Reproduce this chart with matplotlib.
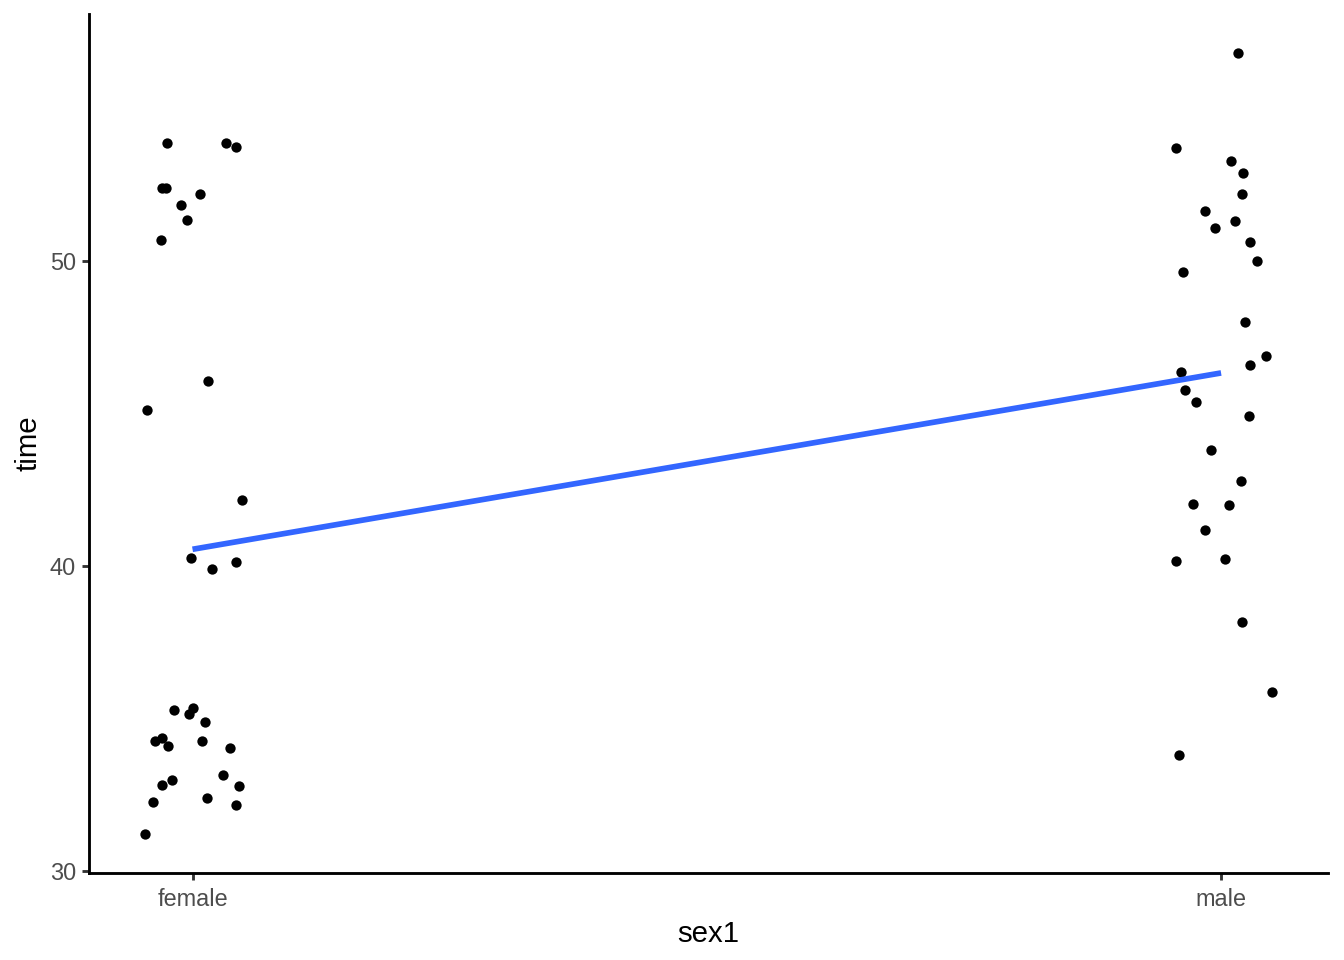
import numpy as np
import matplotlib
matplotlib.use("Agg")
import matplotlib.pyplot as plt

categories = ["female", "male"]

female_time = [53.88, 53.86, 53.75, 52.39, 52.39, 52.20, 51.84, 51.35, 50.70, 45.11,
               46.06, 42.16, 40.26, 39.90, 40.12, 35.27, 35.14, 35.33, 34.88, 34.26,
               34.34, 34.09, 34.26, 34.02, 33.14, 32.98, 32.81, 32.78, 32.39, 32.25,
               32.15, 31.20]
female_jitter = [-0.0246, 0.0327, 0.0424, -0.0298, -0.0259, 0.0075, -0.0110, -0.0049, -0.0311, -0.0447,
                 0.0155, 0.0485, -0.0019, 0.0194, 0.0427, -0.0178, -0.0036, 0.0000, 0.0126, -0.0366,
                 -0.0301, -0.0243, 0.0094, 0.0366, 0.0301, -0.0197, -0.0301, 0.0456, 0.0136, -0.0382,
                 0.0424, -0.0459]

male_time = [56.82, 53.71, 53.29, 52.88, 52.20, 51.64, 51.31, 51.08, 50.63, 50.01,
             49.64, 48.00, 46.88, 46.37, 46.59, 45.78, 45.38, 44.91, 43.80, 42.78,
             42.03, 41.99, 41.17, 40.16, 40.22, 38.16, 35.86, 33.79]
male_jitter = [0.0162, -0.0440, 0.0094, 0.0214, 0.0201, -0.0158, 0.0136, -0.0058, 0.0279, 0.0347,
               -0.0372, 0.0230, 0.0434, -0.0391, 0.0279, -0.0352, -0.0246, 0.0269, -0.0100, 0.0191,
               -0.0275, 0.0075, -0.0158, -0.0440, 0.0036, 0.0201, 0.0492, -0.0411]

y_ticks = [30, 40, 50]

plt.rcParams['font.family'] = ['Liberation Sans', 'DejaVu Sans']

fig = plt.figure(figsize=(7, 5), dpi=192)
ax = fig.add_axes([89/1344, 1 - 873/960, (1328-89)/1344, (873-14)/960])

codes_f = np.ones(len(female_time))
codes_m = np.full(len(male_time), 2.0)
xf = codes_f + np.array(female_jitter)
xm = codes_m + np.array(male_jitter)
all_x = np.concatenate([xf, xm])
all_y = np.concatenate([female_time, male_time])

ax.scatter(all_x, all_y, s=15, c="black", linewidths=0, zorder=2)

# linear fit on category codes
codes = np.concatenate([codes_f, codes_m])
slope, intercept = np.polyfit(codes, all_y, 1)
lx = np.array([1.0, 2.0])
ax.plot(lx, intercept + slope * lx, color="#3366FF", lw=2.13, solid_capstyle="butt", zorder=3)

# limits with 5% expansion
xr = all_x.max() - all_x.min()
ax.set_xlim(all_x.min() - 0.05 * xr, all_x.max() + 0.05 * xr)
yr = all_y.max() - all_y.min()
ax.set_ylim(all_y.min() - 0.05 * yr, all_y.max() + 0.05 * yr)

ax.set_xticks([1, 2])
ax.set_xticklabels(categories)
ax.set_yticks(y_ticks)

for s in ["top", "right"]:
    ax.spines[s].set_visible(False)
for s in ["left", "bottom"]:
    ax.spines[s].set_linewidth(1.07)
    ax.spines[s].set_color("black")

ax.tick_params(axis="both", length=2.75, width=1.07, color="#333333",
               labelsize=8.8, labelcolor="#4D4D4D", pad=2.2)
ax.tick_params(axis="x", pad=3.0)

ax.set_xlabel("sex1", fontsize=11, color="black", labelpad=3.2)
ax.set_ylabel("time", fontsize=11, color="black", labelpad=2.75)

fig.savefig("out.png", dpi=192)
